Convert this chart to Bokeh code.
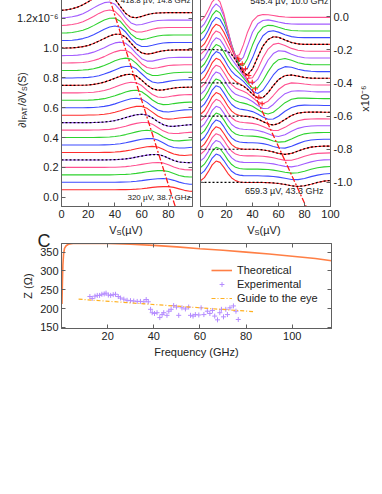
import math
from bokeh.plotting import figure
from bokeh.models import Range1d, LinearAxis, Label, Legend, LegendItem, FixedTicker
from bokeh.layouts import column, row
from bokeh.embed import file_html
from bokeh.resources import INLINE

FONT = "Liberation Sans"
INK = "#222222"
FRAME = "#606060"

# ---------------- data ----------------
# Panel A: V_S grid (uV) and each trace's deviation from its offset, in 1e-9 S
VL = [0, 4, 8, 12, 16, 20, 24, 28, 32, 36, 40, 44, 48, 52, 56, 60, 64, 68, 72, 76, 80, 84, 88, 92, 96, 100]
LEFT = [
    [0, 0, 0, 0, 0, 0, 0, 0, 0, 0, 0, 1, 1, 2, 4, 7, 11, 16, 19, 21, 21, 16, 6, -4, -10, -12],
    [0, 0, 0, 0, 0, 0, 0, 0, 0, 0, 0, 1, 2, 4, 7, 11, 16, 20, 24, 25, 22, 13, 1, -8, -13, -14],
    [0, 0, 0, 0, 0, 0, 0, 0, 0, 0, 1, 2, 3, 6, 10, 15, 21, 25, 28, 28, 22, 9, -4, -12, -15, -15],
    [0, 0, 0, 0, 0, 0, 0, 0, 0, 1, 1, 3, 5, 9, 14, 20, 26, 31, 33, 30, 17, 3, -9, -15, -17, -16],
    [0, 0, 0, 0, 0, 0, 0, 0, 0, 1, 2, 4, 7, 12, 19, 26, 32, 36, 36, 28, 12, -4, -14, -17, -18, -15],
    [0, 0, 0, 0, 0, 0, 0, 0, 1, 1, 3, 6, 11, 17, 25, 32, 38, 41, 37, 22, 4, -10, -18, -20, -17, -15],
    [0, 0, 0, 0, 0, 0, 0, 0, 1, 2, 5, 9, 15, 23, 31, 39, 43, 44, 34, 15, -5, -17, -20, -20, -17, -14],
    [0, 0, 0, 0, 0, 0, 0, 1, 2, 4, 7, 12, 20, 29, 38, 46, 49, 44, 27, 5, -12, -21, -22, -19, -16, -13],
    [0, 0, 0, 0, 0, 0, 1, 1, 3, 5, 10, 17, 26, 37, 45, 51, 51, 40, 18, -5, -19, -23, -22, -18, -15, -13],
    [0, 0, 0, 0, 0, 0, 1, 2, 4, 8, 14, 23, 34, 44, 53, 56, 51, 32, 7, -13, -24, -25, -21, -17, -14, -13],
    [0, 0, 0, 0, 0, 1, 1, 3, 6, 12, 20, 30, 42, 52, 59, 59, 46, 21, -5, -22, -26, -24, -19, -15, -13, -12],
    [0, 0, 0, 0, 0, 1, 2, 5, 9, 16, 26, 38, 50, 60, 64, 58, 36, 8, -15, -26, -28, -23, -18, -14, -13, -12],
    [0, 0, 0, 0, 0, 1, 3, 6, 11, 20, 31, 43, 56, 65, 67, 57, 32, 2, -20, -29, -28, -22, -17, -14, -12, -12],
    [0, 0, 0, 0, 1, 2, 4, 9, 16, 26, 39, 53, 64, 71, 68, 49, 17, -11, -28, -31, -26, -20, -15, -13, -12, -12],
    [0, 0, 0, 1, 1, 3, 7, 13, 22, 34, 48, 62, 72, 75, 64, 35, 2, -22, -32, -30, -24, -18, -14, -13, -12, -12],
    [0, 0, 0, 1, 2, 4, 8, 15, 26, 39, 54, 69, 77, 78, 61, 28, -5, -27, -34, -30, -23, -17, -14, -12, -12, -12],
    [0, 0, 0, 1, 3, 6, 12, 21, 34, 49, 65, 77, 83, 76, 48, 11, -19, -34, -34, -27, -20, -15, -13, -12, -12, -12],
    [0, 0, 1, 2, 4, 9, 17, 28, 43, 60, 75, 85, 85, 67, 31, -6, -30, -37, -32, -24, -17, -14, -13, -12, -12, -12],
    [0, 1, 1, 3, 7, 13, 23, 37, 53, 71, 85, 90, 83, 53, 13, -21, -37, -37, -29, -21, -15, -13, -12, -12, -12, -12],
    [0, 1, 2, 5, 10, 18, 31, 47, 65, 82, 93, 93, 73, 34, -6, -32, -40, -35, -25, -18, -14, -13, -12, -12, -12, -12],
    [1, 1, 3, 7, 14, 25, 40, 58, 77, 92, 98, 90, 58, 14, -22, -39, -39, -31, -22, -16, -13, -12, -12, -12, -12, -12],
    [1, 2, 5, 11, 20, 33, 51, 70, 88, 100, 101, 80, 37, -6, -34, -43, -37, -27, -19, -14, -13, -12, -12, -12, -12, -12],
    [2, 4, 8, 15, 27, 43, 62, 83, 99, 106, 97, 62, 15, -24, -42, -42, -33, -23, -16, -13, -12, -12, -12, -12, -12, -12],
    [2, 5, 10, 18, 31, 49, 70, 90, 105, 109, 94, 53, 4, -31, -45, -42, -31, -21, -15, -13, -12, -12, -12, -12, -12, -12],
    [3, 7, 14, 25, 41, 61, 83, 102, 113, 109, 79, 29, -17, -42, -46, -37, -26, -18, -14, -13, -12, -12, -12, -12, -12, -12],
]
LEFT_STEP = 0.05          # waterfall offset between traces (1e-6 S)
LEFT_FIT_ROWS = [4, 9, 14, 19, 24]

# Panel B: V_S grid (uV), traces and the dotted fits, deviations in 1e-9 S
VR = [0, 3, 6, 9, 12, 15, 18, 21, 24, 27, 30, 33, 36, 40, 44, 48, 52, 56, 60, 65, 70, 75, 80, 85, 90, 95, 100]
RIGHT = [
    [10, 29, 65, 106, 129, 121, 91, 55, 27, 11, 3, 1, 0, 0, 0, 0, -1, -3, -6, -12, -20, -24, -20, -11, 0, 8, 12],
    [10, 30, 65, 107, 131, 122, 92, 56, 27, 11, 4, 1, 0, 0, 0, -1, -2, -4, -8, -15, -22, -23, -16, -5, 4, 11, 14],
    [10, 30, 66, 108, 132, 123, 93, 56, 28, 11, 4, 1, 0, 0, 0, -1, -2, -6, -11, -19, -24, -22, -12, 0, 9, 14, 16],
    [10, 30, 66, 109, 133, 124, 93, 57, 28, 11, 4, 1, 0, 0, 0, -1, -4, -8, -15, -23, -26, -19, -7, 4, 12, 16, 17],
    [10, 30, 67, 110, 134, 125, 94, 57, 28, 11, 4, 1, 0, 0, -1, -2, -6, -11, -19, -27, -26, -16, -2, 9, 15, 17, 18],
    [10, 31, 68, 111, 136, 127, 95, 58, 28, 11, 4, 1, 0, 0, -1, -4, -9, -16, -25, -31, -25, -11, 3, 13, 17, 19, 19],
    [10, 31, 68, 112, 137, 128, 96, 58, 29, 11, 4, 1, 0, -1, -2, -6, -13, -23, -31, -33, -22, -6, 8, 16, 19, 20, 20],
    [10, 31, 69, 113, 138, 129, 97, 59, 29, 12, 4, 1, 0, -1, -4, -10, -19, -30, -37, -34, -18, 0, 13, 18, 20, 21, 21],
    [11, 32, 70, 114, 139, 130, 98, 60, 29, 12, 4, 1, -1, -2, -7, -15, -27, -39, -43, -32, -12, 6, 16, 20, 22, 22, 22],
    [11, 32, 70, 115, 141, 131, 99, 60, 30, 12, 4, 1, -1, -4, -11, -23, -37, -47, -46, -28, -5, 12, 20, 22, 23, 23, 22],
    [11, 32, 71, 116, 142, 132, 100, 61, 30, 12, 4, 0, -2, -7, -18, -33, -48, -54, -45, -21, 4, 18, 23, 24, 24, 23, 23],
    [11, 32, 71, 117, 143, 134, 100, 61, 30, 12, 3, -1, -5, -13, -27, -46, -59, -58, -41, -11, 12, 23, 26, 25, 25, 24, 24],
    [11, 33, 72, 118, 144, 135, 101, 62, 30, 12, 3, -2, -8, -21, -40, -60, -68, -57, -32, 1, 21, 28, 28, 27, 26, 25, 25],
    [11, 33, 73, 119, 146, 136, 102, 62, 31, 11, 2, -5, -14, -32, -56, -74, -73, -50, -18, 15, 30, 33, 31, 28, 26, 26, 26],
    [11, 33, 73, 121, 147, 137, 103, 63, 30, 10, -1, -10, -23, -48, -74, -85, -70, -36, 0, 29, 40, 38, 33, 29, 27, 27, 27],
    [11, 33, 74, 122, 148, 138, 104, 63, 30, 9, -5, -18, -37, -68, -91, -89, -59, -16, 20, 44, 48, 41, 33, 29, 28, 28, 28],
    [11, 34, 75, 123, 149, 139, 105, 63, 29, 6, -11, -31, -56, -90, -104, -84, -39, 8, 41, 58, 54, 42, 34, 30, 28, 28, 28],
    [11, 34, 75, 124, 151, 141, 106, 63, 28, 1, -22, -50, -80, -111, -108, -67, -12, 34, 60, 67, 56, 41, 33, 30, 29, 29, 29],
    [12, 34, 76, 125, 152, 142, 106, 62, 24, -8, -40, -75, -108, -126, -99, -40, 18, 57, 74, 70, 53, 39, 32, 30, 30, 30, 30],
    [12, 35, 76, 126, 153, 142, 106, 60, 16, -24, -65, -106, -134, -129, -77, -8, 44, 72, 79, 66, 48, 37, 32, 31, 31, 31, 31],
    [12, 35, 77, 127, 154, 143, 105, 55, 3, -48, -98, -138, -151, -116, -45, 22, 62, 78, 75, 59, 43, 35, 32, 32, 32, 32, 32],
    [12, 35, 78, 128, 155, 143, 102, 45, -18, -81, -135, -164, -153, -89, -10, 44, 69, 74, 66, 50, 39, 34, 33, 33, 33, 33, 33],
    [12, 35, 78, 128, 156, 142, 95, 27, -49, -121, -170, -175, -136, -52, 18, 55, 67, 65, 55, 43, 36, 34, 33, 33, 33, 33, 33],
    [12, 36, 79, 129, 156, 137, 81, -1, -92, -164, -191, -164, -101, -15, 36, 56, 60, 54, 47, 39, 35, 34, 34, 34, 34, 34, 34],
    [12, 36, 79, 129, 153, 128, 57, -43, -141, -198, -190, -131, -58, 13, 44, 52, 51, 46, 41, 37, 35, 35, 35, 35, 35, 35, 35],
]
RFIT = [
    [0, 0, 0, 0, 0, 0, 0, 0, 0, 0, 0, 0, 0, 0, 0, 0, -1, -3, -6, -12, -20, -24, -20, -11, 0, 8, 12],
    [0, 0, 0, 0, 0, 0, 0, 0, 0, 0, 0, 0, 0, 0, -1, -4, -9, -16, -25, -31, -25, -11, 3, 13, 17, 19, 19],
    [0, 0, 0, 0, 0, 0, 0, 0, 0, 0, 0, -1, -2, -7, -18, -33, -48, -54, -45, -21, 4, 18, 23, 24, 24, 23, 23],
    [0, 0, 0, 0, 0, 0, 0, 0, -1, -3, -9, -19, -37, -68, -91, -89, -59, -16, 20, 44, 48, 41, 33, 29, 28, 28, 28],
    [0, 0, 0, 0, 0, -1, -4, -11, -29, -61, -102, -139, -152, -117, -45, 22, 62, 78, 75, 59, 43, 35, 32, 32, 32, 32, 32],
]
RIGHT_START = -1.0
RIGHT_STEP = 0.04
RFIT_ROWS = [0, 5, 10, 15, 20]

PEAK_LINE_V = [35, 85]
PEAK_LINE_D = [1.36, -0.06]
DIP_LINE_V = [28, 81.5]
DIP_LINE_D = [-0.24, -1.15]
DIP_MARK_V = [29.5, 32.1, 34.6, 37.2, 39.8, 42.3, 44.9, 47.4]
DIP_MARK_D = [-0.255, -0.285, -0.315, -0.356, -0.396, -0.436, -0.486, -0.526]

# Panel C
TH_F = [0.2, 0.4, 0.6, 0.9, 1.3, 2, 3, 5, 10, 20, 30, 40, 50, 60, 70, 80, 90, 100, 110, 117]
TH_Z = [212, 270, 315, 345, 360, 367, 371, 373, 374, 373, 371, 368, 364, 359, 355, 350, 345, 339, 333, 327]
EX_F = [12.3, 13.3, 14.5, 15.5, 16.5, 17.5, 18.5, 19.3, 20.3, 21.3, 22.4, 23.4, 24.6, 25.6, 27, 28.4, 29.9,
        31.3, 32.8, 34.2, 35.7, 36.7, 37.6, 38.6, 39.3, 40.3, 41.4, 42.6, 43.6, 44.3, 45.7, 46.5, 47.5, 48.6,
        49.8, 50.8, 52.2, 53.7, 55.1, 55.9, 57, 58, 59.5, 60.5, 61.7, 63.2, 64.3, 65.4, 66.4, 67.6, 68.6, 69.3,
        70.2, 71.2, 71.9, 73, 74.5, 75.6, 76.6]
EX_Z = [232, 227, 233, 235, 235, 238, 239, 241, 236, 235, 237, 238, 232, 228, 225, 222, 221,
        220, 219, 219, 218, 224, 218, 198, 189, 187, 189, 176, 184, 189, 182, 193, 198, 208,
        204, 182, 202, 199, 204, 182, 180, 184, 183, 202, 184, 193, 187, 195, 180, 170, 189, 198,
        178, 198, 184, 202, 207, 193, 171]
GD_F = [7.4, 83]
GD_Z = [225, 192]

# ---------------- styles ----------------
RED = "#ff2d2d"; PINK = "#ff5090"; PURPLE = "#a35cff"; BLUE = "#3d4bff"; GREEN = "#2ed22e"
left_colors = [RED, BLUE, GREEN, PINK, PURPLE, RED, BLUE, GREEN, PINK, PURPLE, RED, BLUE, GREEN, PINK,
               RED, BLUE, GREEN, PINK, PURPLE, RED, BLUE, GREEN, PINK, PURPLE, RED]
rcyc = [RED, BLUE, GREEN, PURPLE, PINK]


def style_axis(ax, labels=True):
    ax.axis_line_color = FRAME
    ax.major_tick_line_color = FRAME
    ax.major_tick_in = 4
    ax.major_tick_out = 0
    ax.minor_tick_line_color = None
    ax.major_label_text_font = FONT
    if labels:
        ax.major_label_text_color = INK
        ax.major_label_text_font_size = "11px"
        ax.major_label_standoff = 3
    else:
        ax.major_label_text_color = None
        ax.major_label_text_font_size = "1px"
        ax.major_label_standoff = 0


def mirror(p, side, ticks):
    ax = LinearAxis(ticker=FixedTicker(ticks=ticks))
    style_axis(ax, labels=False)
    p.add_layout(ax, side)


def base_fig(**kw):
    p = figure(output_backend="svg", toolbar_location=None, **kw)
    p.xgrid.visible = False
    p.ygrid.visible = False
    p.outline_line_color = FRAME
    p.border_fill_color = "white"
    return p


def lab(p, x, y, text, size, angle=0.0, align="left", baseline="alphabetic"):
    p.add_layout(Label(x=x, y=y, text=text, text_font=FONT, text_font_size=size, text_color=INK,
                       angle=angle, text_align=align, text_baseline=baseline))

R = math.pi / 2

# ---------------- panel A ----------------
pa = base_fig(width=188, height=246, x_range=Range1d(0, 98), y_range=Range1d(-0.0624, 1.40),
              min_border_left=53, min_border_right=4, min_border_top=0, min_border_bottom=28)
yt = [0.0, 0.2, 0.4, 0.6, 0.8, 1.0, 1.2]
pa.yaxis.ticker = FixedTicker(ticks=yt)
pa.yaxis.major_label_overrides = {0.0: "0.0", 0.2: "0.2", 0.4: "0.4", 0.6: "0.6", 0.8: "0.8", 1.0: "1.0",
                                  1.2: "1.2x10\u207b\u2076"}
pa.xaxis.ticker = FixedTicker(ticks=[0, 20, 40, 60, 80])
for ax in pa.axis:
    style_axis(ax)
mirror(pa, "right", yt)

for i, rel in enumerate(LEFT):
    off = LEFT_STEP * (i + 1)
    pa.line(VL, [off + v / 1000 for v in rel], color=left_colors[i], line_width=1.1)
for i in LEFT_FIT_ROWS:
    off = LEFT_STEP * (i + 1)
    pa.line(VL, [off + v / 1000 for v in LEFT[i]], color="black", line_dash="2 2", line_width=1.2)
pa.line(PEAK_LINE_V, PEAK_LINE_D, color="#ff1a1a", line_dash="6 2 2 2", line_width=1.3)

lab(pa, 96.5, 0.0, "320 \u00b5V, 38.7 GHz", "8px", align="right", baseline="middle")
lab(pa, 96.5, 1.32, "418.8 \u00b5V, 14.8 GHz", "8px", align="right", baseline="middle")

# ---------------- panel B ----------------
pb = base_fig(width=178, height=246, x_range=Range1d(0, 100), y_range=Range1d(-1.145, 0.169),
              y_axis_location="right",
              min_border_left=4, min_border_right=44, min_border_top=0, min_border_bottom=28)
yt2 = [-1.0, -0.8, -0.6, -0.4, -0.2, 0.0]
pb.yaxis.ticker = FixedTicker(ticks=yt2)
pb.yaxis.major_label_overrides = {-1.0: "-1.0", -0.8: "-0.8", -0.6: "-0.6", -0.4: "-0.4", -0.2: "-0.2", 0.0: "0.0"}
pb.xaxis.ticker = FixedTicker(ticks=[0, 20, 40, 60, 80, 100])
for ax in pb.axis:
    style_axis(ax)
mirror(pb, "left", yt2)

for k, rel in enumerate(RIGHT):
    off = RIGHT_START + RIGHT_STEP * k
    pb.line(VR, [off + v / 1000 for v in rel], color=rcyc[k % 5], line_width=1.1)
for k, fit in zip(RFIT_ROWS, RFIT):
    off = RIGHT_START + RIGHT_STEP * k
    pb.line(VR, [off + v / 1000 for v in fit], color="black", line_dash="2 2", line_width=1.2)
pb.line(DIP_LINE_V, DIP_LINE_D, color="#ff1a1a", line_dash="6 2 2 2", line_width=1.3)
pb.scatter(DIP_MARK_V, DIP_MARK_D, marker="cross", size=5, color="#ff1a1a", line_width=1)

lab(pb, 94.6, -1.054, "659.3 \u00b5V, 43.3 GHz", "9px", align="right", baseline="middle")
lab(pb, 98.5, 0.096, "545.4 \u00b5V, 10.0 GHz", "9px", align="right", baseline="middle")

# ---------------- panel C ----------------
pc = base_fig(width=366, height=126, x_range=Range1d(0, 117), y_range=Range1d(147, 373),
              min_border_left=53, min_border_right=43, min_border_top=9, min_border_bottom=30)
pc.xaxis.ticker = FixedTicker(ticks=[20, 40, 60, 80, 100])
pc.yaxis.ticker = FixedTicker(ticks=[150, 200, 250, 300, 350])
pc.xaxis.axis_label = "Frequency (GHz)"
pc.yaxis.axis_label = "Z (\u03a9)"
for ax in pc.axis:
    style_axis(ax)
    ax.axis_label_text_font = FONT
    ax.axis_label_text_font_size = "11px"
    ax.axis_label_text_font_style = "normal"
    ax.axis_label_text_color = INK
    ax.axis_label_standoff = 3
mirror(pc, "right", [150, 200, 250, 300, 350])
mirror(pc, "above", [20, 40, 60, 80, 100])

r_th = pc.line(TH_F, TH_Z, color="#ff7f45", line_width=1.6)
r_ex = pc.scatter(EX_F, EX_Z, marker="cross", size=5, color="#b58cff", line_width=1)
r_gd = pc.line(GD_F, GD_Z, color="#ffb020", line_dash="4 2 1 2", line_width=1.2)
leg = Legend(items=[LegendItem(label="Theoretical", renderers=[r_th]),
                    LegendItem(label="Experimental", renderers=[r_ex]),
                    LegendItem(label="Guide to the eye", renderers=[r_gd])],
             location=(150, 24), border_line_color=None, background_fill_alpha=0,
             label_text_font=FONT, label_text_font_size="11px", label_text_color=INK,
             glyph_width=21, glyph_height=12, label_height=12, label_standoff=5,
             spacing=2, padding=0, margin=0)
pc.add_layout(leg)

layout = column(row(pa, pb), pc, margin=(-12, 0, 0, 8))

# ---------------- transparent text layer (its own root, pinned to the page corner) ----------------
OW, OH = 374, 480
ov = figure(width=OW, height=OH, x_range=Range1d(0, OW), y_range=Range1d(0, OH),
            output_backend="svg", toolbar_location=None, x_axis_location=None, y_axis_location=None,
            min_border_left=0, min_border_right=0, min_border_top=0, min_border_bottom=0,
            styles={"position": "absolute", "top": "0px", "left": "0px", "pointer-events": "none"})
ov.xgrid.visible = False
ov.ygrid.visible = False
ov.outline_line_color = None
ov.background_fill_color = None
ov.border_fill_color = None


def olab(px, py, text, size, angle=0.0, align="left", baseline="alphabetic"):
    # px, py: page pixels from the top-left corner
    lab(ov, px, OH - py, text, size, angle=angle, align=align, baseline=baseline)


# V_S (uV) under both waterfall panels
for x0 in (108.8, 246.8):
    olab(x0, 229.5, "V", "11px")
    olab(x0 + 7.3, 232, "S", "7.5px")
    olab(x0 + 12.3, 229.5, " (\u00b5V)", "11px")
# dI_PAT/dV_S (S), rotated
olab(21, 127.2, "\u2202I", "10.5px", angle=R)
olab(23.5, 119.1, "PAT", "7px", angle=R)
olab(21, 105.5, "/\u2202V", "10.5px", angle=R)
olab(23.5, 90.4, "S", "7px", angle=R)
olab(21, 85.7, " (S)", "10.5px", angle=R)
# x10^-6 on the right
olab(364, 98, "x10\u207b\u2076", "11px", angle=R, align="center", baseline="middle")
# panel letter
olab(37, 240, "C", "18px")

open("out.html", "w").write(file_html([layout, ov], INLINE))
